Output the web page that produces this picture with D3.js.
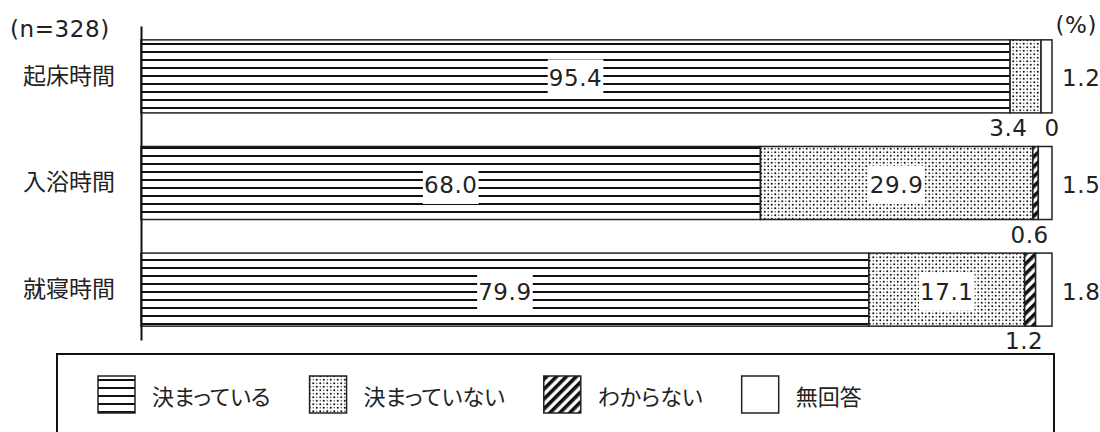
<!DOCTYPE html>
<html><head><meta charset="utf-8">
<script src="https://cdn.jsdelivr.net/npm/d3@7"></script>
<style>
html,body{margin:0;padding:0;background:#fff;}
svg{display:block;}
text{fill:#222;}
.lat{font-family:"DejaVu Sans","Noto Sans CJK JP",sans-serif;font-size:23px;letter-spacing:0.6px;}
.jp{font-family:"Noto Sans CJK JP","DejaVu Sans",sans-serif;font-size:22px;font-feature-settings:"palt";}
</style></head>
<body>
<script>
const categories = ["起床時間", "入浴時間", "就寝時間"];
const seriesNames = ["決まっている", "決まっていない", "わからない", "無回答"];
const decided    = [95.4, 68.0, 79.9];
const notDecided = [3.4, 29.9, 17.1];
const unknown    = [0, 0.6, 1.2];
const noAnswer   = [1.2, 1.5, 1.8];
const sampleLabel = "(n=328)";
const unitLabel = "(%)";

const seriesValues = [decided, notDecided, unknown, noAnswer];
const rows = categories.map((c, i) => {
  const r = {cat: c};
  seriesNames.forEach((s, k) => r[s] = seriesValues[k][i]);
  return r;
});

const W = 1100, H = 432;
const svg = d3.select("body").append("svg").attr("width", W).attr("height", H);
const defs = svg.append("defs");

// horizontal lines
const pH = defs.append("pattern").attr("id", "pat0").attr("patternUnits", "userSpaceOnUse")
  .attr("width", 8).attr("height", 8);
pH.append("rect").attr("width", 8).attr("height", 8).attr("fill", "#fff");
pH.append("rect").attr("y", 3).attr("width", 8).attr("height", 2).attr("fill", "#111");

// dots
const pD = defs.append("pattern").attr("id", "pat1").attr("patternUnits", "userSpaceOnUse")
  .attr("width", 7).attr("height", 7);
pD.append("rect").attr("width", 7).attr("height", 7).attr("fill", "#fff");
[[1.75,1.75,1.0,"#111"],[5.25,5.25,1.0,"#111"],[5.25,1.75,0.7,"#444"],[1.75,5.25,0.7,"#444"]].forEach(d =>
  pD.append("circle").attr("cx", d[0]).attr("cy", d[1]).attr("r", d[2]).attr("fill", d[3]));

// diagonal stripes
const pS = defs.append("pattern").attr("id", "pat2").attr("patternUnits", "userSpaceOnUse")
  .attr("width", 7).attr("height", 7).attr("patternTransform", "rotate(45)");
pS.append("rect").attr("width", 7).attr("height", 7).attr("fill", "#fff");
pS.append("rect").attr("width", 3.6).attr("height", 7).attr("fill", "#111");

const fills = ["url(#pat0)", "url(#pat1)", "url(#pat2)", "#fff"];

const x = d3.scaleLinear().domain([0, 100]).range([141, 1052]);
const y = d3.scaleBand().domain(categories).range([26, 340])
  .paddingInner(0.315).paddingOuter(0.13);

const stack = d3.stack().keys(seriesNames)(rows);
const fmt = v => v === 0 ? "0" : d3.format(".1f")(v);

// bars
const gBars = svg.append("g");
stack.forEach((layer, k) => {
  gBars.selectAll(null).data(layer).join("rect")
    .attr("x", d => x(d[0]))
    .attr("y", d => y(d.data.cat))
    .attr("width", d => x(d[1]) - x(d[0]))
    .attr("height", y.bandwidth())
    .attr("fill", fills[k])
    .attr("stroke", "#222")
    .attr("stroke-width", 1.5);
});

// axis
const gAxis = svg.append("g").attr("transform", `translate(${x(0)},0)`)
  .call(d3.axisLeft(y).tickSize(0).tickPadding(26));
gAxis.select(".domain").attr("stroke", "#111").attr("stroke-width", 2);
gAxis.selectAll(".tick text").attr("class", "jp").attr("font-size", null)
  .attr("font-family", null).style("font-size", "23px").attr("fill", "#222");

// labels
const gLab = svg.append("g");
const below = [];
stack.forEach((layer, k) => {
  layer.forEach(d => {
    const v = d.data[seriesNames[k]];
    const cy = y(d.data.cat) + y.bandwidth() / 2;
    const cx = (x(d[0]) + x(d[1])) / 2;
    if (k === 3) {
      gLab.append("text").attr("class", "lat").attr("x", x(d[1]) + 10).attr("y", cy + 2)
        .attr("dominant-baseline", "central").text(fmt(v));
    } else if (v >= 10) {
      const t = gLab.append("text").attr("class", "lat").attr("x", cx).attr("y", cy + 2)
        .attr("text-anchor", "middle").attr("dominant-baseline", "central").text(fmt(v));
      const bb = t.node().getBBox();
      gLab.insert("rect", () => t.node())
        .attr("x", bb.x - 1).attr("y", cy + 2 - 19).attr("width", bb.width + 2).attr("height", 38)
        .attr("fill", "#fff");
    } else {
      below.push({cat: d.data.cat, cx: cx - 6, v: v,
        y: y(d.data.cat) + y.bandwidth() + 15});
    }
  });
});
// place below-bar labels, resolving overlaps within a row
categories.forEach(c => {
  const items = below.filter(b => b.cat === c);
  items.forEach(b => {
    b.t = gLab.append("text").attr("class", "lat").attr("y", b.y)
      .attr("text-anchor", "middle").attr("dominant-baseline", "central").text(fmt(b.v));
    b.w = b.t.node().getComputedTextLength();
  });
  for (let i = 1; i < items.length; i++) {
    const a = items[i - 1], b = items[i];
    const gap = 17;
    const need = a.w / 2 + b.w / 2 + gap;
    if (b.cx - a.cx < need) {
      const mid = (a.cx + b.cx) / 2 + 3;
      a.cx = mid - need / 2;
      b.cx = mid + need / 2;
    }
  }
  items.forEach(b => b.t.attr("x", b.cx));
});

svg.append("text").attr("class", "lat").attr("x", 10).attr("y", 29)
  .attr("dominant-baseline", "central").text(sampleLabel);
svg.append("text").attr("class", "lat").attr("x", 1097).attr("y", 25)
  .attr("text-anchor", "end").attr("dominant-baseline", "central").text(unitLabel);

// legend
const gLeg = svg.append("g");
gLeg.append("rect").attr("x", 57).attr("y", 354).attr("width", 1054 - 57).attr("height", 120)
  .attr("fill", "none").attr("stroke", "#111").attr("stroke-width", 2);
let lx = 98;
seriesNames.forEach((s, k) => {
  gLeg.append("rect").attr("x", lx).attr("y", 376).attr("width", 37).attr("height", 37)
    .attr("fill", fills[k]).attr("stroke", "#222").attr("stroke-width", 1.5);
  const t = gLeg.append("text").attr("class", "jp").attr("x", lx + 54).attr("y", 395)
    .attr("dominant-baseline", "central").text(s);
  lx = lx + 54 + t.node().getComputedTextLength() + 39;
});
</script>
</body></html>
